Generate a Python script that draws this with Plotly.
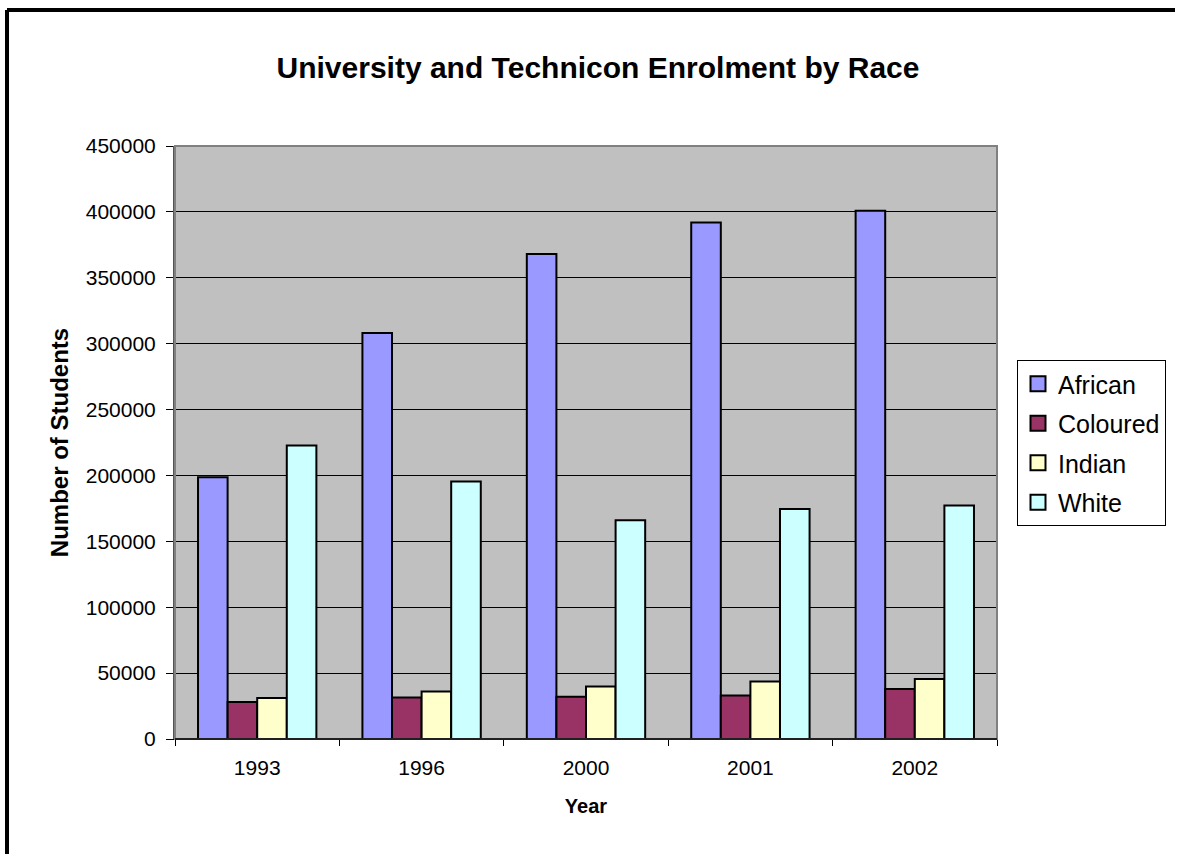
import plotly.graph_objects as go

# Enrolment figures (number of students) by year and race
years = ["1993", "1996", "2000", "2001", "2002"]
african = [198700, 308100, 368000, 392000, 400800]
coloured = [28000, 31500, 32000, 33000, 38000]
indian = [31200, 36000, 39800, 43700, 45500]
white = [222800, 195400, 166000, 174600, 177200]

series = [
    ("African", african, "#9999FF"),
    ("Coloured", coloured, "#993366"),
    ("Indian", indian, "#FFFFCC"),
    ("White", white, "#CCFFFF"),
]

W, H = 1187, 856
L, R, T, B = 175, 190, 146, 117
pw, ph = W - L - R, H - T - B

fig = go.Figure()
for name, vals, col in series:
    fig.add_trace(go.Bar(
        x=years, y=vals, name=name, legendgroup=name, showlegend=False,
        marker=dict(color=col, line=dict(color="black", width=2)),
    ))
# legend keys: outlined squares for each series
for name, vals, col in series:
    fig.add_trace(go.Scatter(
        x=[None], y=[None], mode="markers", name=name, legendgroup=name,
        marker=dict(symbol="square", size=15, color=col,
                    line=dict(color="black", width=2)),
    ))

font = "Arial, Liberation Sans, sans-serif"

fig.update_layout(
    width=W, height=H,
    margin=dict(l=L, r=R, t=T, b=B),
    paper_bgcolor="white",
    plot_bgcolor="#C0C0C0",
    barmode="group",
    bargap=0.28,
    bargroupgap=0,
    font=dict(family=font, color="black"),
    title=dict(
        text="<b>University and Technicon Enrolment by Race</b>",
        font=dict(size=30, family=font, color="black"),
        x=598 / W, xanchor="center", xref="container",
        y=1 - 67 / H, yanchor="middle", yref="container",
    ),
    xaxis=dict(
        type="category",
        title=dict(text="<b>Year</b>", font=dict(size=20), standoff=20),
        tickfont=dict(size=21),
        ticklabelstandoff=10,
        showline=True, linecolor="black", linewidth=1,
        ticks="outside", tickson="boundaries", ticklen=6, tickcolor="black",
        showgrid=False,
    ),
    yaxis=dict(
        range=[0, 450000],
        dtick=50000,
        tickformat="d",
        title=dict(text="<b>Number of Students</b>", font=dict(size=24), standoff=10),
        tickfont=dict(size=21),
        ticklabelstandoff=6,
        showline=True, linecolor="#555555", linewidth=2,
        ticks="outside", ticklen=7, tickcolor="black",
        showgrid=True, gridcolor="black", gridwidth=1,
        zeroline=False,
    ),
    legend=dict(
        x=(1017 - L) / pw, xanchor="left",
        y=(H - B - 360) / ph, yanchor="top",
        bgcolor="white", bordercolor="black", borderwidth=1,
        font=dict(size=25, family=font),
        itemsizing="trace",
        tracegroupgap=4,
    ),
    showlegend=True,
)

# gray frame around the plotting area
fig.add_shape(type="rect", xref="paper", yref="paper",
              x0=0, x1=1, y0=0, y1=1,
              line=dict(color="#808080", width=2), layer="above")
# baseline drawn over the frame
fig.add_shape(type="line", xref="paper", yref="paper",
              x0=0, x1=1, y0=0, y1=0,
              line=dict(color="black", width=1.5), layer="above")
# heavy outer border along the top and left edges
top_y = (H - B - 10) / ph
left_x = (7 - L) / pw
fig.add_shape(type="line", xref="paper", yref="paper",
              x0=left_x, x1=(W - 12 - L) / pw, y0=top_y, y1=top_y,
              line=dict(color="black", width=4), layer="above")
fig.add_shape(type="line", xref="paper", yref="paper",
              x0=left_x, x1=left_x, y0=top_y, y1=-(B - 2) / ph,
              line=dict(color="black", width=4), layer="above")

fig.write_html("out.html")
